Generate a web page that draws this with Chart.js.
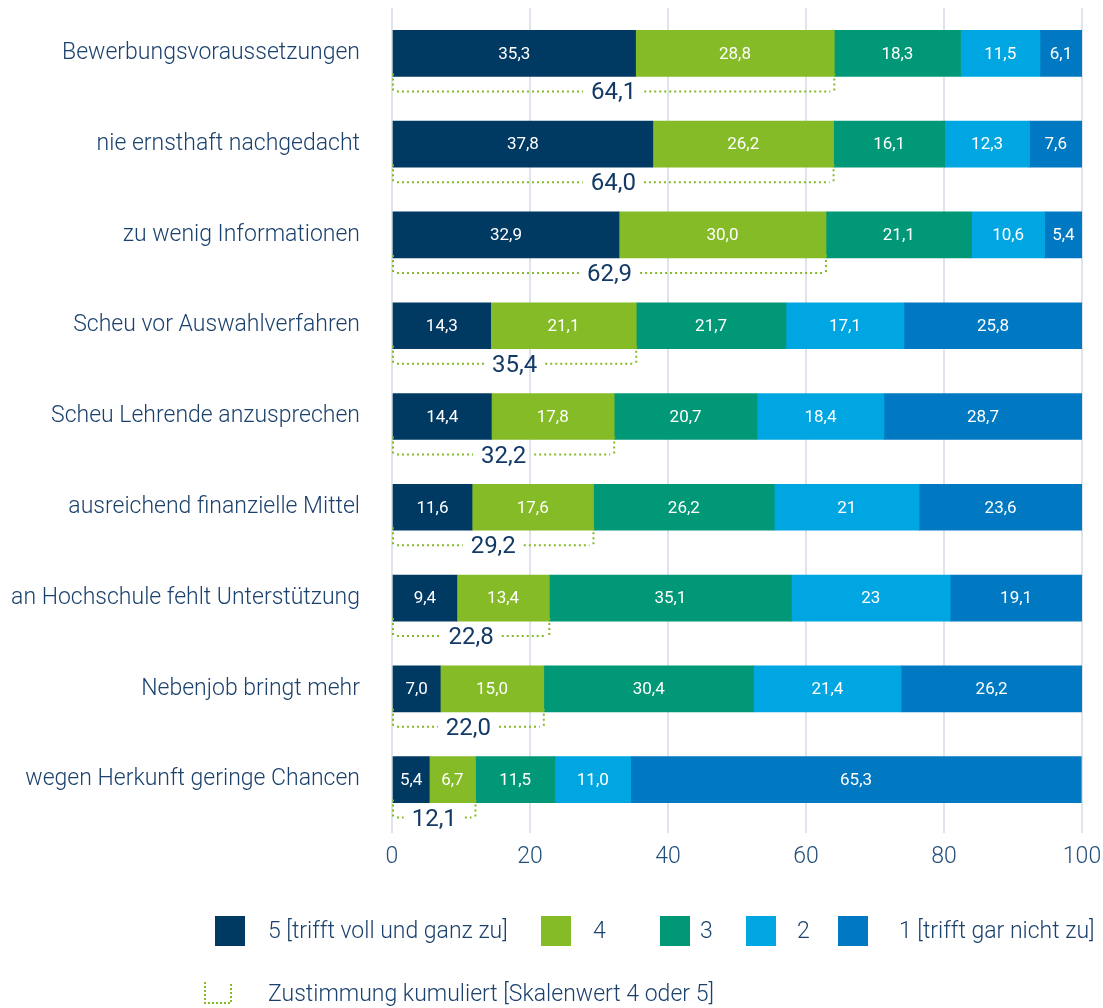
<!DOCTYPE html>
<html>
<head>
<meta charset="utf-8">
<script src="https://cdn.jsdelivr.net/npm/chart.js@4"></script>
<style>
  html, body { margin: 0; padding: 0; background: #fff; }
</style>
</head>
<body>
<canvas id="chart" width="1103" height="1008"></canvas>
<script>
// Kategorien und Werte (Anteile in %)
const categories = [
  'Bewerbungsvoraussetzungen',
  'nie ernsthaft nachgedacht',
  'zu wenig Informationen',
  'Scheu vor Auswahlverfahren',
  'Scheu Lehrende anzusprechen',
  'ausreichend finanzielle Mittel',
  'an Hochschule fehlt Unterstützung',
  'Nebenjob bringt mehr',
  'wegen Herkunft geringe Chancen'
];
const seriesNames = ['5 [trifft voll und ganz zu]', '4', '3', '2', '1 [trifft gar nicht zu]'];
const seriesColors = ['#003a63', '#84bb26', '#009877', '#00a6e2', '#0079c2'];
const s5 = ['35.3', '37.8', '32.9', '14.3', '14.4', '11.6', '9.4', '7.0', '5.4'];
const s4 = ['28.8', '26.2', '30.0', '21.1', '17.8', '17.6', '13.4', '15.0', '6.7'];
const s3 = ['18.3', '16.1', '21.1', '21.7', '20.7', '26.2', '35.1', '30.4', '11.5'];
const s2 = ['11.5', '12.3', '10.6', '17.1', '18.4', '21', '23', '21.4', '11.0'];
const s1 = ['6.1', '7.6', '5.4', '25.8', '28.7', '23.6', '19.1', '26.2', '65.3'];
const cumulative = ['64.1', '64.0', '62.9', '35.4', '32.2', '29.2', '22.8', '22.0', '12.1'];
const xTicks = [0, 20, 40, 60, 80, 100];
const cumulativeLabel = 'Zustimmung kumuliert [Skalenwert 4 oder 5]';

const textColor = '#1b416d';
const green = '#84bb26';
const fontFamily = 'Roboto, "Liberation Sans", sans-serif';

function deNum(v) {
  return String(v).replace('.', ',');
}

// Werte in die Balken schreiben
const valueLabels = {
  id: 'valueLabels',
  afterDatasetsDraw(chart) {
    const ctx = chart.ctx;
    ctx.save();
    ctx.font = '17px ' + fontFamily;
    ctx.fillStyle = '#ffffff';
    ctx.textAlign = 'center';
    ctx.textBaseline = 'middle';
    chart.data.datasets.forEach((ds, di) => {
      chart.getDatasetMeta(di).data.forEach((bar, i) => {
        const p = bar.getProps(['x', 'y', 'base'], true);
        ctx.fillText(deNum(ds.data[i]), (p.x + p.base) / 2, p.y + 1);
      });
    });
    ctx.restore();
  }
};

// gepunktete Klammer unter den Balken (kumulierte Zustimmung)
const brackets = {
  id: 'brackets',
  afterDatasetsDraw(chart) {
    const ctx = chart.ctx;
    const xs = chart.scales.x;
    const meta = chart.getDatasetMeta(0);
    ctx.save();
    ctx.font = '24px ' + fontFamily;
    ctx.textAlign = 'center';
    ctx.textBaseline = 'middle';
    cumulative.forEach((v, i) => {
      const bar = meta.data[i];
      const bottom = bar.y + bar.height / 2;
      const yl = bottom + 15;
      const x0 = xs.getPixelForValue(0) + 1;
      const x1 = xs.getPixelForValue(+v);
      const cx = (x0 + x1) / 2;
      const label = deNum(v);
      const gap = ctx.measureText(label).width / 2 + 8;

      ctx.strokeStyle = green;
      ctx.lineWidth = 2;
      ctx.setLineDash([2, 3]);
      ctx.beginPath();
      ctx.moveTo(x0, bottom - 3);
      ctx.lineTo(x0, yl);
      ctx.moveTo(x1, bottom - 3);
      ctx.lineTo(x1, yl);
      ctx.moveTo(x0 + 4, yl);
      ctx.lineTo(Math.max(x0 + 4, cx - gap), yl);
      ctx.moveTo(Math.min(x1 - 4, cx + gap), yl);
      ctx.lineTo(x1 - 4, yl);
      ctx.stroke();

      ctx.setLineDash([]);
      ctx.fillStyle = '#133a66';
      ctx.fillText(label, cx, yl + 2);
    });
    ctx.restore();
  }
};

// Legende unten
const bottomLegend = {
  id: 'bottomLegend',
  afterDraw(chart) {
    const ctx = chart.ctx;
    const boxX = [215, 541, 660, 746, 838];
    const textX = [268, 593, 700, 797, 899];
    ctx.save();
    ctx.font = '300 23px ' + fontFamily;
    ctx.textBaseline = 'middle';
    ctx.textAlign = 'left';
    seriesNames.forEach((name, i) => {
      ctx.fillStyle = seriesColors[i];
      ctx.fillRect(boxX[i], 916, 30, 30);
      ctx.fillStyle = textColor;
      ctx.fillText(name, textX[i], 932);
    });

    ctx.strokeStyle = green;
    ctx.lineWidth = 2;
    ctx.setLineDash([2, 2]);
    ctx.beginPath();
    ctx.moveTo(205, 982);
    ctx.lineTo(205, 1003);
    ctx.lineTo(231, 1003);
    ctx.lineTo(231, 982);
    ctx.stroke();
    ctx.setLineDash([]);
    ctx.fillStyle = textColor;
    ctx.fillText(cumulativeLabel, 268, 995);
    ctx.restore();
  }
};

const seriesData = [s5, s4, s3, s2, s1];

new Chart(document.getElementById('chart').getContext('2d'), {
  type: 'bar',
  data: {
    labels: categories,
    datasets: seriesData.map((d, i) => ({
      label: seriesNames[i],
      data: d,
      backgroundColor: seriesColors[i],
      borderWidth: 0,
      barThickness: 46
    }))
  },
  options: {
    indexAxis: 'y',
    responsive: false,
    animation: false,
    devicePixelRatio: 1,
    layout: { padding: { top: 8, right: 21, left: 0, bottom: 0 } },
    plugins: {
      legend: { display: false },
      tooltip: { enabled: false }
    },
    scales: {
      x: {
        stacked: true,
        min: 0,
        max: 100,
        afterBuildTicks: (s) => { s.ticks = xTicks.map(v => ({ value: v })); },
        afterFit: (s) => { s.height = 183; s.paddingLeft = 0; s.paddingRight = 0; },
        border: { display: false },
        grid: { color: '#dfe3eb', lineWidth: 2, tickLength: 8 },
        ticks: { color: '#24507d', padding: 10, font: { family: fontFamily, size: 23, weight: '300' } }
      },
      y: {
        stacked: true,
        afterFit: (s) => { s.width = 392; s.paddingTop = 0; s.paddingBottom = 0; },
        border: { display: false },
        grid: { display: false, drawTicks: false },
        ticks: { color: textColor, padding: 32, font: { family: fontFamily, size: 23, weight: '300' } }
      }
    }
  },
  plugins: [valueLabels, brackets, bottomLegend]
});
</script>
</body>
</html>
